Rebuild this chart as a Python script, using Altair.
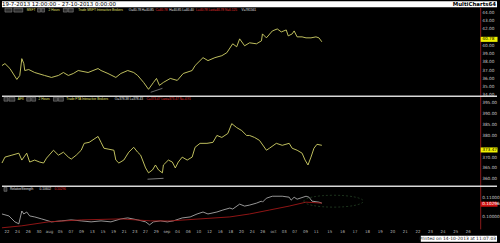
import altair as alt
import pandas as pd

W = 483
DMAX = 89.7
FONT = "DejaVu Sans"
HFONT = "Liberation Sans"

# ---------- data ----------
p1_day = [0, 0.56, 1.49, 2.79, 3.34, 3.72, 4.09, 4.27, 5.02, 6.13, 7.99, 9.29, 10.59, 11.52, 12.45, 13.38,
          14.30, 16.16, 18.02, 18.58, 19.88, 21.36, 22.29, 23.59, 24.71, 25.45, 26.56, 27.49, 28.42, 28.98,
          29.54, 30.28, 31.58, 32.88, 34.00, 35.67, 36.22, 37.71, 38.64, 39.94, 41.24, 42.17, 43.28, 44.03,
          44.58, 45.51, 46.44, 47.74, 48.67, 48.86, 49.60, 50.71, 51.64, 52.39, 53.32, 53.69, 54.43, 54.80,
          55.36, 56.29, 57.03, 57.96, 58.89, 59.45, 60.00]
p1_val = [37.60, 37.84, 37.24, 35.92, 36.40, 38.44, 37.84, 37.00, 37.12, 36.76, 36.40, 36.16, 36.40, 36.76,
          36.40, 36.64, 37.00, 36.76, 37.24, 37.00, 36.64, 36.16, 36.64, 37.00, 36.76, 36.40, 35.56, 34.72,
          35.56, 36.04, 35.20, 35.56, 36.04, 35.80, 36.64, 37.00, 37.60, 38.56, 38.20, 38.56, 38.80, 39.16,
          40.24, 39.88, 40.84, 40.00, 40.36, 40.24, 40.60, 41.44, 40.96, 41.80, 42.04, 41.68, 41.92, 41.20,
          41.44, 41.80, 41.08, 41.08, 40.96, 40.96, 41.08, 40.96, 40.48]

p2_day = [0, 0.56, 1.86, 3.16, 3.72, 4.64, 5.20, 6.13, 7.06, 7.80, 8.36, 9.66, 10.59, 11.52, 12.45, 13.00,
          13.93, 14.86, 15.42, 16.35, 18.02, 18.58, 19.13, 20.06, 20.99, 21.36, 21.92, 22.85, 23.78, 24.71,
          25.45, 26.01, 26.94, 27.49, 28.24, 28.79, 29.35, 30.09, 30.28, 31.21, 31.95, 32.51, 33.07, 33.81,
          34.74, 35.67, 36.22, 37.15, 38.45, 39.57, 40.31, 41.24, 42.36, 43.10, 44.03, 44.96, 45.89, 46.44,
          47.37, 48.30, 49.60, 50.16, 51.46, 52.57, 53.87, 54.43, 55.36, 56.29, 56.85, 57.40, 57.96, 58.52,
          59.08, 60.00]
p2_val = [367.5, 370.2, 371.1, 372.0, 368.85, 372.0, 367.95, 368.85, 367.95, 367.5, 369.75, 373.35, 371.1,
          372.45, 370.2, 369.3, 371.1, 373.35, 376.5, 376.95, 379.65, 376.95, 374.25, 373.8, 373.35, 368.85,
          367.5, 368.85, 372.45, 374.7, 372.45, 371.1, 365.25, 363.0, 364.35, 366.6, 364.35, 363.0, 366.6,
          368.85, 367.95, 365.25, 367.95, 370.2, 368.85, 370.2, 374.7, 376.5, 376.5, 376.95, 380.1, 379.2,
          381.0, 385.5, 383.7, 382.35, 380.1, 380.1, 379.2, 377.85, 373.35, 374.25, 376.5, 375.6, 376.5,
          374.25, 373.35, 372.0, 368.85, 366.6, 370.2, 374.25, 376.05, 375.6]

rs_day = [0, 1.30, 2.42, 3.16, 3.72, 4.09, 4.64, 5.20, 6.13, 7.43, 9.29, 11.15, 13.00, 14.86, 16.72, 18.58,
          20.43, 22.29, 23.59, 25.45, 26.94, 27.68, 28.42, 29.72, 31.02, 32.14, 33.81, 35.30, 36.60, 37.71,
          38.64, 40.31, 41.43, 42.73, 43.28, 44.58, 45.51, 46.44, 47.74, 48.67, 48.86, 49.60, 50.71, 52.57,
          53.87, 54.24, 54.80, 55.36, 57.03, 57.59, 58.15, 59.45, 60.00]
rs_val = [0.10158, 0.10053, 0.09737, 0.09632, 0.10316, 0.10158, 0.10263, 0.10053, 0.10000, 0.09895, 0.09737,
          0.09789, 0.09842, 0.09789, 0.09737, 0.09789, 0.09737, 0.09895, 0.09947, 0.09842, 0.09737, 0.09579,
          0.09737, 0.09789, 0.09737, 0.09789, 0.09947, 0.10000, 0.10158, 0.10263, 0.10158, 0.10263, 0.10368,
          0.10474, 0.10421, 0.10684, 0.10579, 0.10632, 0.10737, 0.10842, 0.10789, 0.11000, 0.11105, 0.11105,
          0.11053, 0.10895, 0.11053, 0.10947, 0.11105, 0.11053, 0.10842, 0.10789, 0.10737]

ma_day = [0, 3.72, 8.73, 14.86, 22.29, 27.87, 31.58, 37.15, 42.73, 46.44, 50.16, 53.87, 57.03, 60.00]
ma_val = [0.09421, 0.09526, 0.09737, 0.09842, 0.09895, 0.09789, 0.09789, 0.09895, 0.10000, 0.10158,
          0.10368, 0.10579, 0.10789, 0.10737]

# axis labels (the one hidden under each highlighted last-value box is left out)
p1_ticks = [34, 35, 36, 37, 38, 39, 40, 42, 43, 44]
p2_ticks = [360, 365, 370, 380, 385, 390, 395]
rs_ticks = [0.10, 0.11]

x_labels = ["22", "24", "26", "30", "aug", "05", "07", "09", "13", "15", "19", "21", "23", "27", "29",
            "sep", "04", "06", "10", "12", "16", "18", "20", "24", "26", "oct", "03", "07", "09", "11",
            "15", "16", "17", "18", "19", "20", "21", "22", "23", "24", "25", "26"]
x_label_day = [0.93, 2.93, 4.93, 6.93, 8.93, 10.93, 12.93, 14.93, 16.93, 18.93, 20.93, 22.93, 24.93, 26.93,
               28.93, 30.93, 32.93, 34.93, 36.93, 38.93, 40.93, 42.93, 44.93, 46.93, 48.93, 50.93, 52.93,
               54.93, 56.93, 58.93, 61.5, 63.86, 66.22, 68.58, 70.94, 73.3, 75.66, 78.02, 80.38, 82.74,
               85.1, 87.46]

last_p1 = 40.78
last_p2 = 373.47
rs_head = 0.10602
last_rs = 0.10296
rs_box_at = 0.1068

xs = alt.Scale(domain=[0, DMAX], nice=False, zero=False)
X = alt.X("day:Q", scale=xs, axis=None)
BOX = "M-1,-0.3L1,-0.3L1,0.3L-1,0.3Z"


def ylabels(vals, fmt, scale):
    d = pd.DataFrame({"v": vals, "t": [format(v, fmt) for v in vals]})
    return alt.Chart(d).mark_text(align="left", baseline="middle", fontSize=4.3, font=FONT,
                                  color="#c8c8c8").encode(
        x=alt.value(W + 2), y=alt.Y("v:Q", scale=scale), text="t:N")


def yaxis():
    return alt.Axis(orient="right", labels=False, domainColor="#8b1a1a", domainWidth=1, ticks=False,
                    grid=False, title=None)


def header(items):
    layers = []
    for txt, x, col in items:
        layers.append(alt.Chart(pd.DataFrame({"t": [txt]})).mark_text(
            align="left", baseline="middle", fontSize=3.2, font=HFONT, color=col
        ).encode(x=alt.value(x), y=alt.value(3), text="t:N"))
    return layers


def buttons(xs_list):
    out = []
    for x0, x1 in xs_list:
        out.append(alt.Chart(pd.DataFrame({"a": [0]})).mark_rect(
            color="#303030", stroke="#9a9a9a", strokeWidth=0.5).encode(
            x=alt.value(x0), x2=alt.value(x1), y=alt.value(1), y2=alt.value(5)))
    return out


def highlight(val, txt, scale, fill, tcol):
    d = alt.Chart(pd.DataFrame({"v": [val], "t": [txt]}))
    box = d.mark_point(shape=BOX, filled=True, color=fill, opacity=1, size=289).encode(
        x=alt.value(W + 9), y=alt.Y("v:Q", scale=scale))
    t = d.mark_text(align="left", baseline="middle", fontSize=4.3, font=FONT, color=tcol).encode(
        x=alt.value(W + 2), y=alt.Y("v:Q", scale=scale), text="t:N")
    return [box, t]


def sep():
    return alt.Chart(pd.DataFrame({"a": [0]})).mark_rule(color="#d8d8d8", strokeWidth=1.5).encode(
        x=alt.value(0), x2=alt.value(500), y=alt.value(0))


YEL = "#e0e070"
WHT = "#e0e0e0"
RED = "#e03030"

# ---------- top strip ----------
top = alt.layer(
    alt.Chart(pd.DataFrame({"t": ["19-7-2013 12:00:00 - 27-10-2013 0:00:00"]})).mark_text(
        align="left", baseline="middle", fontSize=5.5, font=FONT, color="black"
    ).encode(x=alt.value(0), y=alt.value(2.5), text="t:N"),
    alt.Chart(pd.DataFrame({"t": ["MultiCharts64"]})).mark_text(
        align="right", baseline="middle", fontSize=5.5, font=FONT, color="black", fontWeight="bold"
    ).encode(x=alt.value(499), y=alt.value(3), text="t:N"),
).properties(width=500, height=6, view=alt.ViewConfig(fill="white", stroke=None))

# ---------- panel 1 ----------
df1 = pd.DataFrame({"day": p1_day, "v": p1_val})
y1 = alt.Scale(domain=[33.88, 44.684], nice=False, zero=False)
line1 = alt.Chart(df1).mark_line(color="#d4d468", strokeWidth=0.9).encode(
    x=X, y=alt.Y("v:Q", scale=y1, axis=yaxis()))
trend1 = alt.Chart(pd.DataFrame({"day": [27.9, 30.1], "v": [34.36, 34.84]})).mark_line(
    color="#9a9a9a", strokeWidth=0.7).encode(x=X, y=alt.Y("v:Q", scale=y1))
h1 = header([("MSFT", 25, YEL), ("2 Hours", 47, YEL), ("Trade  MSFT  Interactive Brokers", 77, YEL),
             ("O=40.78  H=40.85", 128, WHT), ("C=40.78", 155, RED), ("H=40.85  L=40.40", 169, WHT),
             ("L=40.78  Last=40.78  N=0.125", 196, RED), ("V=781561", 242, WHT)])
b1 = buttons([(3, 10), (12, 21), (36, 39), (40, 43), (62, 66), (67, 72)])
panel1 = alt.layer(line1, trend1, ylabels(p1_ticks, ".2f", y1),
                   *highlight(last_p1, f"{last_p1:.2f}", y1, "#f0f000", "black"),
                   *b1, *h1).properties(width=W, height=90)

# ---------- panel 2 ----------
df2 = pd.DataFrame({"day": p2_day, "v": p2_val})
y2 = alt.Scale(domain=[356.83, 398.03], nice=False, zero=False)
line2 = alt.Chart(df2).mark_line(color="#d4d468", strokeWidth=0.9).encode(
    x=X, y=alt.Y("v:Q", scale=y2, axis=yaxis()))
trend2 = alt.Chart(pd.DataFrame({"day": [27.3, 30.3], "v": [360.1, 360.5]})).mark_line(
    color="#b0b0b0", strokeWidth=0.7).encode(x=X, y=alt.Y("v:Q", scale=y2))
h2 = header([("AFX", 16, YEL), ("2 Hours", 37, YEL), ("Trade  FTA  Interactive Brokers", 65, YEL),
             ("O=378.38  L=378.43", 114, WHT), ("C=373.47  Last=373.47  N=-4.91", 146, RED)])
b2 = buttons([(2, 6), (7, 13), (25, 29), (30, 34), (52, 56), (57, 62)])
panel2 = alt.layer(line2, trend2, ylabels(p2_ticks, ".2f", y2),
                   *highlight(last_p2, f"{last_p2:.2f}", y2, "#f0f000", "black"),
                   sep(), *b2, *h2).properties(width=W, height=91)

# ---------- panel 3 ----------
dfr = pd.DataFrame({"day": rs_day, "v": rs_val})
dfm = pd.DataFrame({"day": ma_day, "v": ma_val})
y3 = alt.Scale(domain=[0.0936, 0.11632], nice=False, zero=False)
rs = alt.Chart(dfr).mark_line(color="#d8d8d8", strokeWidth=0.7).encode(
    x=X, y=alt.Y("v:Q", scale=y3, axis=yaxis()))
ma = alt.Chart(dfm).mark_line(color="#a01818", strokeWidth=0.9).encode(x=X, y=alt.Y("v:Q", scale=y3))
ell = alt.Chart(pd.DataFrame({"day": [62.2], "v": [0.1084]})).mark_point(
    shape="M-1,0A1,0.2,0,1,0,1,0A1,0.2,0,1,0,-1,0Z", size=3600, color="#3c6a3c", strokeWidth=0.7,
    strokeDash=[2, 2], filled=False).encode(x=X, y=alt.Y("v:Q", scale=y3))
h3 = header([("RelativeStrength", 8, WHT), ("0.10602", 38, WHT), ("0.10296", 53, RED)])
b3 = buttons([(2, 5)])
panel3 = alt.layer(rs, ma, ell, ylabels(rs_ticks, ".5f", y3),
                   *highlight(rs_box_at, f"{last_rs:.5f}", y3, "#d01010", "white"),
                   sep(), *b3, *h3).properties(width=W, height=43)

# ---------- x axis strip ----------
dfx = pd.DataFrame({"day": x_label_day, "t": x_labels})
xlab = alt.Chart(dfx).mark_text(fontSize=4, font=FONT, color="#b0b0b0", baseline="middle").encode(
    x=X, y=alt.value(3.5), text="t:N")
xstrip = alt.layer(xlab).properties(width=W, height=7)

# ---------- bottom strip ----------
bottom = alt.layer(
    alt.Chart(pd.DataFrame({"a": [0]})).mark_rect(color="white").encode(
        x=alt.value(423), x2=alt.value(500), y=alt.value(0), y2=alt.value(6)),
    alt.Chart(pd.DataFrame({"t": ["Printed on 14-10-2013 at 11:07:03"]})).mark_text(
        align="right", baseline="middle", fontSize=4.5, font=FONT, color="#202020"
    ).encode(x=alt.value(499), y=alt.value(3), text="t:N"),
).properties(width=500, height=6)

chart = alt.vconcat(top, panel1, panel2, panel3, xstrip, bottom, spacing=0, bounds="flush").configure(
    background="black", padding=0
).configure_view(stroke=None)

chart.save("out.html", embed_options={"renderer": "svg", "actions": False})
